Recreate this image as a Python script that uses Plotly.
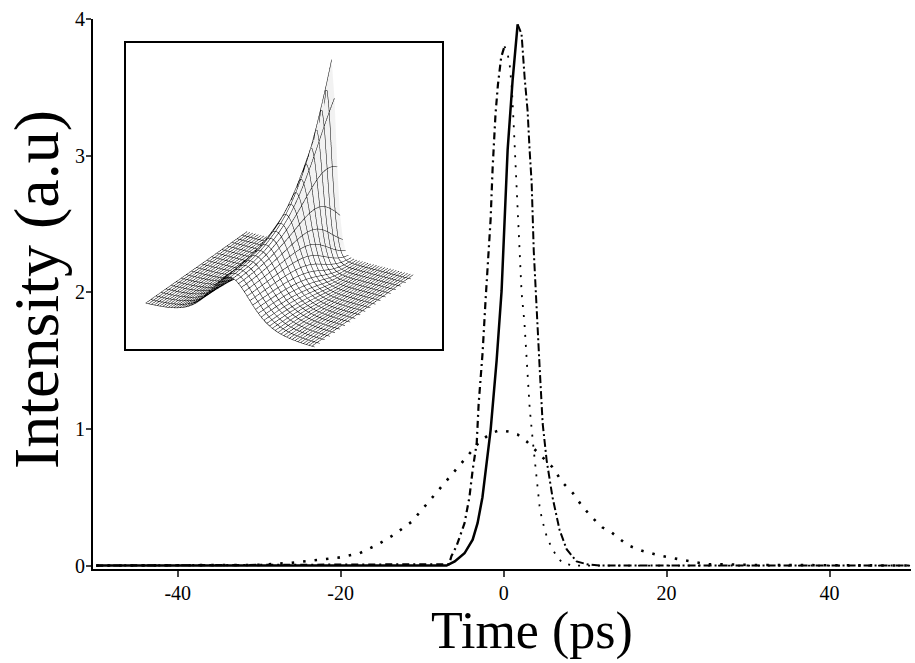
import numpy as np
import plotly.graph_objects as go

# ---------------- data ----------------
# wide input pulse (dotted)
wide_t = [-50, -30, -26, -23.2, -20.1, -17.7, -15.6, -13.6, -11.3, -9.3, -7.6, -5.9, -4.4, -2.9, -1.5, -0.5,
          0.7, 1.7, 2.8, 3.8, 4.8, 6.0, 7.2, 8.5, 9.7, 10.9, 12.1, 13.3, 15.2, 16.9, 19.4, 22.0, 24.9, 26.7, 30, 50]
wide_i = [0, 0.005, 0.02, 0.04, 0.06, 0.09, 0.15, 0.22, 0.32, 0.46, 0.58, 0.70, 0.80, 0.91, 0.97, 0.99,
          0.98, 0.96, 0.91, 0.85, 0.79, 0.72, 0.61, 0.53, 0.43, 0.35, 0.28, 0.24, 0.15, 0.11, 0.07, 0.04, 0.01, 0.01, 0.005, 0]

# compressed pulse A (peak ~3.8): leading edge (dash-dot) and trailing edge (dotted)
a_lead_t = [-50, -6.7, -6.4, -5.8, -4.8, -4.2, -3.8, -3.3, -3.07, -2.58, -2.2, -1.96, -1.6, -1.35, -1.0, -0.7, -0.3, 0.1]
a_lead_i = [0, 0.01, 0.07, 0.14, 0.31, 0.5, 0.7, 0.9, 1.18, 1.56, 1.96, 2.16, 2.53, 2.91, 3.3, 3.52, 3.72, 3.8]
a_trail_t = [0.1, 0.45, 0.75, 1.0, 1.2, 1.4, 1.7, 1.96, 2.2, 2.55, 2.85, 3.2, 3.6, 4.0, 4.4, 4.7, 5.3, 5.9, 6.5, 7.2, 8.5, 50]
a_trail_i = [3.8, 3.76, 3.66, 3.5, 3.27, 3.0, 2.68, 2.3, 2.0, 1.78, 1.5, 1.15, 0.9, 0.65, 0.44, 0.34, 0.21, 0.13, 0.07, 0.02, 0, 0]

# compressed pulse B (peak ~3.96): leading edge (solid) and trailing edge (dash-dot)
b_lead_t = [-50, -7.0, -6.0, -4.8, -3.8, -3.2, -2.6, -2.1, -1.6, -0.86, -0.25, 0.49, 1.1, 1.72]
b_lead_i = [0, 0, 0.03, 0.09, 0.19, 0.31, 0.5, 0.75, 0.99, 1.5, 2.01, 3.04, 3.55, 3.96]
b_trail_t = [1.72, 2.2, 2.58, 2.94, 3.19, 3.44, 3.7, 4.0, 4.42, 4.79, 5.28, 6.0, 6.87, 7.73, 8.96, 10.2, 12, 50]
b_trail_i = [3.96, 3.89, 3.57, 3.33, 3.04, 2.8, 2.3, 1.9, 1.45, 1.04, 0.77, 0.5, 0.26, 0.12, 0.03, 0.01, 0, 0]

x_ticks = [-40, -20, 0, 20, 40]
x_tick_text = ["-40", "-20", "0", "20", "40"]
y_ticks = [0, 1, 2, 3, 4]

# inset: pulse evolution along propagation
inset_dist = [i / 20 for i in range(21)]
inset_peak = [1.0, 1.0, 1.01, 1.02, 1.04, 1.07, 1.1, 1.15, 1.21, 1.28, 1.37, 1.48, 1.62, 1.79, 2.0,
              2.24, 2.52, 2.84, 3.2, 3.58, 4.0]
inset_time = list(np.linspace(-30, 30, 61))
inset_width0 = 9.7

# ---------------- figure ----------------
FONT = "Liberation Serif, Times New Roman, serif"
fig = go.Figure()

def add(x, y, dash, width):
    fig.add_trace(go.Scatter(x=x, y=y, mode="lines", showlegend=False, hoverinfo="skip",
                             line=dict(color="black", width=width, dash=dash)))

add(wide_t, wide_i, "2.5px,9px", 2.6)
add(a_lead_t, a_lead_i, "7px,4px,2px,4px", 2.2)
add(a_trail_t, a_trail_i, "2px,8px", 1.8)
add(b_lead_t, b_lead_i, "solid", 2.5)
add(b_trail_t, b_trail_i, "8px,3px,2px,3px", 2.0)

Z = [[a / np.cosh(t * a ** 1.1 / inset_width0) ** 2 for t in inset_time] for a in inset_peak]
fig.add_trace(go.Surface(
    x=inset_time, y=inset_dist, z=Z, showscale=False, hoverinfo="skip",
    colorscale=[[0, "#ffffff"], [1, "#ffffff"]],
    lighting=dict(ambient=0.95, diffuse=0.2, specular=0.0, roughness=1),
    contours=dict(
        x=dict(show=True, color="black", width=1, start=-30, end=30, size=1, highlight=False),
        y=dict(show=True, color="black", width=1, start=0, end=1, size=0.05, highlight=False),
        z=dict(highlight=False)),
    scene="scene"))

L, R, T, B = 93, 4, 19, 94
W, H = 915, 663
pw, ph = W - L - R, H - T - B
def px(x):
    return (x - L) / pw
def py(y):
    return (H - B - y) / ph

box = dict(x0=px(125), x1=px(443), y0=py(350), y1=py(42))
fig.add_shape(type="rect", xref="paper", yref="paper", line=dict(color="black", width=2),
              fillcolor="rgba(0,0,0,0)", **box)

fig.add_annotation(text="Time (ps)", xref="paper", yref="paper", x=px(532), y=py(631),
                   showarrow=False, font=dict(size=52, family=FONT), xanchor="center", yanchor="middle")
fig.add_annotation(text="Intensity (a.u)", xref="paper", yref="paper", x=px(36), y=py(290),
                   showarrow=False, textangle=-90, font=dict(size=64, family=FONT),
                   xanchor="center", yanchor="middle")

noax = dict(visible=False, showbackground=False, showgrid=False, zeroline=False)
fig.update_layout(
    width=W, height=H,
    margin=dict(l=L, r=R, t=T, b=B),
    paper_bgcolor="white", plot_bgcolor="white",
    font=dict(family=FONT, color="black", size=20),
    xaxis=dict(range=[-50.4, 50], tickvals=x_ticks, ticktext=x_tick_text, ticks="outside", ticklen=6,
               tickwidth=1.5, showline=True, linewidth=2, linecolor="black", showgrid=False, zeroline=False,
               tickfont=dict(size=20, family=FONT), ticklabelstandoff=-1),
    yaxis=dict(range=[-0.025, 4.0], tickvals=y_ticks, ticks="outside", ticklen=5, tickwidth=1.5,
               showline=True, linewidth=2, linecolor="black", showgrid=False, zeroline=False,
               tickfont=dict(size=20, family=FONT), ticklabelstandoff=-3),
    scene=dict(domain=dict(x=[box["x0"] + 0.004, box["x1"] - 0.004], y=[box["y0"] + 0.004, box["y1"] - 0.004]),
               xaxis=noax, yaxis=noax, zaxis=noax, bgcolor="white",
               aspectmode="manual", aspectratio=dict(x=1.38, y=1.37, z=1.5),
               camera=dict(eye=dict(x=1.0, y=-1.62, z=0.88), center=dict(x=0.02, y=0, z=-0.02),
                           projection=dict(type="orthographic"))),
)

fig.write_html("out.html")
